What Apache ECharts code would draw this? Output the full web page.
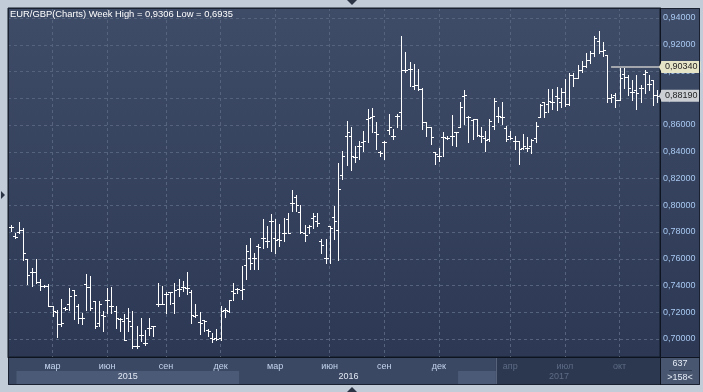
<!DOCTYPE html>
<html><head><meta charset="utf-8">
<script src="https://cdn.jsdelivr.net/npm/echarts@6/dist/echarts.min.js"></script>
<style>html,body{margin:0;padding:0;background:#c2ccd8;overflow:hidden}#c{width:703px;height:392px}</style>
</head><body><div id="c"></div>
<script>
const weeks = [
'2014-12-22','2014-12-29',
'2015-01-05','2015-01-12','2015-01-19','2015-01-26','2015-02-02','2015-02-09','2015-02-16','2015-02-23','2015-03-02','2015-03-09',
'2015-03-16','2015-03-23','2015-03-30','2015-04-06','2015-04-13','2015-04-20','2015-04-27','2015-05-04','2015-05-11','2015-05-18',
'2015-05-25','2015-06-01','2015-06-08','2015-06-15','2015-06-22','2015-06-29','2015-07-06','2015-07-13','2015-07-20','2015-07-27',
'2015-08-03','2015-08-10','2015-08-17','2015-08-24','2015-08-31','2015-09-07','2015-09-14','2015-09-21','2015-09-28','2015-10-05',
'2015-10-12','2015-10-19','2015-10-26','2015-11-02','2015-11-09','2015-11-16','2015-11-23','2015-11-30','2015-12-07','2015-12-14',
'2015-12-21','2015-12-28',
'2016-01-04','2016-01-11','2016-01-18','2016-01-25','2016-02-01','2016-02-08','2016-02-15','2016-02-22','2016-02-29','2016-03-07',
'2016-03-14','2016-03-21','2016-03-28','2016-04-04','2016-04-11','2016-04-18','2016-04-25','2016-05-02','2016-05-09','2016-05-16',
'2016-05-23','2016-05-30','2016-06-06','2016-06-13','2016-06-20','2016-06-27','2016-07-04','2016-07-11','2016-07-18','2016-07-25',
'2016-08-01','2016-08-08','2016-08-15','2016-08-22','2016-08-29','2016-09-05','2016-09-12','2016-09-19','2016-09-26','2016-10-03',
'2016-10-10','2016-10-17','2016-10-24','2016-10-31','2016-11-07','2016-11-14','2016-11-21','2016-11-28','2016-12-05','2016-12-12',
'2016-12-19','2016-12-26',
'2017-01-02','2017-01-09','2017-01-16','2017-01-23','2017-01-30','2017-02-06','2017-02-13','2017-02-20','2017-02-27','2017-03-06',
'2017-03-13','2017-03-20','2017-03-27','2017-04-03','2017-04-10','2017-04-17','2017-04-24','2017-05-01','2017-05-08','2017-05-15',
'2017-05-22','2017-05-29','2017-06-05','2017-06-12','2017-06-19','2017-06-26','2017-07-03','2017-07-10','2017-07-17','2017-07-24',
'2017-07-31','2017-08-07','2017-08-14','2017-08-21','2017-08-28','2017-09-04','2017-09-11','2017-09-18','2017-09-25','2017-10-02',
'2017-10-09','2017-10-16','2017-10-23','2017-10-30','2017-11-06','2017-11-13','2017-11-20','2017-11-27','2017-12-04'];

const opens = [
.7838,.7770,.7800,.7815,.7600,.7500,.7500,.7425,.7400,.7400,
.7250,.7200,.7115,.7230,.7260,.7370,.7245,.7160,.7410,.7390,
.7283,.7120,.7183,.7295,.7245,.7208,.7150,.7133,.7158,.7100,
.6945,.7033,.6970,.7083,.7095,.7258,.7265,.7340,.7350,.7270,
.7375,.7390,.7383,.7355,.7175,.7130,.7140,.7065,.7005,.7005,
.7005,.7215,.7210,.7358,.7375,.7370,.7550,.7608,.7608,.7695,
.7758,.7733,.7883,.7758,.7745,.7795,.7900,.8020,.8060,.7950,
.7795,.7840,.7908,.7880,.7733,.7608,.7845,.7910,.7815,.8225,
.8520,.8520,.8358,.8445,.8470,.8645,.8660,.8550,.8400,.8475,
.8560,.8520,.8670,.8700,.9008,.9020,.8895,.8900,.8870,.8620,
.8583,.8395,.8370,.8508,.8505,.8520,.8545,.8583,.8820,.8658,
.8640,.8645,.8520,.8500,.8495,.8595,.8670,.8658,.8575,.8520,
.8483,.8480,.8425,.8430,.8440,.8500,.8660,.8770,.8758,.8770,
.8820,.8770,.8850,.8760,.8975,.8950,.9013,.9038,.9088,.9140,
.9225,.9150,.9123,.8800,.8825,.8790,.8985,.8960,.8848,.8860,
.8873,.8985,.8910,.8935,.8823];

const highs = [
.7850,.7790,.7878,.7833,.7600,.7533,.7595,.7450,.7405,.7408,
.7250,.7220,.7300,.7240,.7383,.7370,.7265,.7195,.7483,.7470,
.7283,.7283,.7208,.7383,.7390,.7245,.7158,.7190,.7233,.7208,
.7100,.7158,.7065,.7158,.7100,.7420,.7400,.7350,.7350,.7420,
.7445,.7433,.7500,.7370,.7258,.7200,.7145,.7075,.7045,.7075,
.7250,.7233,.7295,.7420,.7383,.7545,.7700,.7758,.7645,.7708,
.7900,.7845,.7933,.7895,.7858,.7908,.7945,.8115,.8080,.8000,
.7850,.7850,.7945,.7945,.7745,.7745,.7845,.7995,.8314,.8408,
.8633,.8583,.8440,.8483,.8558,.8720,.8725,.8620,.8408,.8483,
.8683,.8570,.8683,.9265,.9145,.9070,.9058,.9020,.8880,.8620,
.8583,.8395,.8425,.8545,.8520,.8675,.8550,.8770,.8858,.8670,
.8645,.8645,.8583,.8558,.8645,.8800,.8733,.8770,.8590,.8558,
.8520,.8483,.8533,.8508,.8495,.8620,.8758,.8770,.8870,.8870,
.8883,.8875,.8943,.8988,.8988,.9050,.9075,.9138,.9150,.9263,
.9300,.9223,.9123,.8835,.8838,.9025,.9025,.8975,.8935,.8975,
.8900,.9010,.8973,.8935,.8860];

const lows = [
.7810,.7755,.7795,.7590,.7410,.7400,.7420,.7370,.7390,.7250,
.7175,.7015,.7100,.7220,.7220,.7153,.7120,.7115,.7220,.7220,
.7083,.7095,.7058,.7195,.7195,.7083,.7058,.6990,.7058,.6933,
.6933,.6983,.6958,.7033,.7020,.7250,.7258,.7195,.7265,.7195,
.7320,.7358,.7333,.7120,.7165,.7040,.7058,.7020,.6975,.6995,
.6995,.7165,.7200,.7290,.7345,.7300,.7445,.7525,.7525,.7525,
.7683,.7690,.7658,.7645,.7695,.7733,.7795,.7958,.7958,.7795,
.7733,.7795,.7833,.7845,.7645,.7570,.7570,.7745,.7591,.8195,
.8300,.8260,.8320,.8345,.8408,.8470,.8545,.8420,.8370,.8345,
.8533,.8495,.8583,.8570,.8995,.8895,.8870,.8858,.8570,.8520,
.8458,.8308,.8333,.8370,.8495,.8450,.8445,.8583,.8608,.8470,
.8495,.8520,.8470,.8408,.8483,.8570,.8620,.8608,.8483,.8495,
.8420,.8308,.8420,.8408,.8390,.8470,.8658,.8658,.8700,.8720,
.8713,.8738,.8743,.8750,.8888,.8950,.9000,.9030,.9060,.9113,
.9138,.9113,.8775,.8775,.8735,.8785,.8873,.8823,.8785,.8723,
.8775,.8838,.8860,.8748,.8773];

const closes = [
.7835,.7763,.7815,.7645,.7475,.7500,.7425,.7400,.7395,.7250,
.7210,.7115,.7120,.7225,.7320,.7330,.7160,.7158,.7390,.7233,
.7100,.7265,.7170,.7295,.7245,.7158,.7150,.6995,.7133,.6945,
.6945,.7033,.6970,.7083,.7095,.7258,.7265,.7340,.7350,.7370,
.7375,.7390,.7383,.7180,.7183,.7120,.7135,.7060,.7000,.7003,
.7208,.7215,.7290,.7345,.7375,.7375,.7658,.7570,.7608,.7690,
.7758,.7733,.7883,.7740,.7740,.7795,.7795,.8020,.8000,.7800,
.7780,.7845,.7920,.7870,.7700,.7608,.7833,.7880,.8119,.8370,
.8545,.8370,.8358,.8445,.8483,.8650,.8670,.8533,.8390,.8475,
.8583,.8515,.8670,.9008,.9008,.9020,.8900,.8870,.8620,.8583,
.8508,.8383,.8370,.8508,.8505,.8520,.8545,.8733,.8825,.8658,
.8645,.8525,.8520,.8488,.8633,.8783,.8670,.8658,.8495,.8505,
.8483,.8420,.8445,.8425,.8485,.8595,.8750,.8700,.8783,.8775,
.8800,.8850,.8760,.8975,.8950,.9013,.9038,.9088,.9138,.9250,
.9150,.9160,.8800,.8810,.8790,.8950,.8960,.8873,.8848,.8838,
.8873,.9000,.8910,.8823,.8819];

const yTicks = [0.70,0.72,0.74,0.76,0.78,0.80,0.82,0.84,0.86,0.88,0.90,0.92,0.94];
const monthTicks = ['2015-03-02','2015-06-01','2015-09-07','2015-12-07','2016-03-07','2016-06-06',
                    '2016-09-05','2016-12-05','2017-04-03','2017-07-03','2017-10-02'];
const monthNames = ['янв','фев','мар','апр','май','июн','июл','авг','сен','окт','ноя','дек'];
const yearStarts = ['2015-01-01','2016-01-07','2017-01-06'];
const navStart = '2017-03-10';
const levelValue = 0.9034;
const levelStart = '2017-09-18';
const titleText = 'EUR/GBP(Charts) Week High = 0,9306 Low = 0,6935';
const boxTop = '637';
const boxBottom = '>158<';

const FONT = 'Liberation Sans, Arial, sans-serif';
const fmt = v => v.toFixed(5).replace('.', ',');
const ts = d => { const p = d.split(/[- :]/).map(Number); return Date.UTC(p[0], p[1] - 1, p[2], p[3] || 0, p[4] || 0); };
const X_MIN = ts('2014-12-17 20:00'), X_MAX = ts('2017-12-08 12:00');
const Y_MIN = 0.686542, Y_MAX = 0.947477;
const navTs = ts(navStart);

const lastClose = closes[closes.length - 1];
const data = weeks.map((d, i) => [ts(d), opens[i], highs[i], lows[i], closes[i]]);
const monthVals = monthTicks.map(ts);
const yearVals = yearStarts.map(ts);
const yearMids = yearVals.map((a, i) => (Math.max(a, X_MIN) + (i + 1 < yearVals.length ? yearVals[i + 1] : X_MAX)) / 2);

const chart = echarts.init(document.getElementById('c'), null, {renderer: 'canvas', width: 703, height: 392});

const option = {
  animation: false,
  title: {text: titleText, left: 10, top: 10, padding: 0,
    textStyle: {color: '#ffffff', fontSize: 9.4, fontWeight: 'normal', fontFamily: FONT}},
  grid: {left: 8, right: 43, top: 8, bottom: 35, show: true, borderColor: '#121a28', borderWidth: 1, backgroundColor: 'transparent'},
  xAxis: [{
    type: 'value', min: X_MIN, max: X_MAX, position: 'bottom',
    axisLine: {show: true, onZero: false, lineStyle: {color: '#0e1420', width: 1}},
    axisTick: {show: false, customValues: monthVals},
    axisLabel: {customValues: monthVals, margin: 5, fontSize: 9, fontFamily: FONT, color: '#c4d4ee',
      formatter: v => { const m = monthNames[new Date(v).getUTCMonth()]; return v >= navTs ? '{dim|' + m + '}' : m; },
      rich: {dim: {color: '#5d6b86', fontSize: 9, fontFamily: FONT}}},
    splitLine: {show: true, lineStyle: {color: '#55637d', width: 1, type: [3, 3]}}
  }, {
    type: 'value', min: X_MIN, max: X_MAX, position: 'bottom',
    axisLine: {show: false, onZero: false}, axisTick: {show: false, customValues: yearMids},
    axisLabel: {customValues: yearMids, margin: 15, fontSize: 9, fontFamily: FONT, color: '#e2e9f4',
      formatter: v => { const y = String(new Date(v).getUTCFullYear()); return v >= navTs ? '{dim|' + y + '}' : y; },
      rich: {dim: {color: '#5d6b86', fontSize: 9, fontFamily: FONT}}},
    splitLine: {show: false}
  }],
  yAxis: {
    type: 'value', position: 'right', min: Y_MIN, max: Y_MAX,
    axisLine: {show: true, onZero: false, lineStyle: {color: '#0e1420', width: 1}},
    axisTick: {show: false, customValues: yTicks},
    axisLabel: {customValues: yTicks, margin: 3, fontSize: 9, fontFamily: FONT, color: '#a9c9f2', formatter: v => fmt(v)},
    splitLine: {show: true, lineStyle: {color: '#55637d', width: 1, type: [3, 3]}}
  },
  series: [{
    type: 'custom', xAxisIndex: 0, yAxisIndex: 0, data: data,
    encode: {x: 0, y: [1, 2, 3, 4]},
    renderItem: (params, api) => {
      const t = api.value(0);
      const pO = api.coord([t, api.value(1)]);
      const pH = api.coord([t, api.value(2)]);
      const pL = api.coord([t, api.value(3)]);
      const pC = api.coord([t, api.value(4)]);
      const x = Math.round(pO[0]) + 0.5;
      const r = v => Math.round(v) + 0.5;
      const st = {stroke: '#ffffff', lineWidth: 1};
      return {type: 'group', children: [
        {type: 'line', shape: {x1: x, y1: Math.round(pH[1]), x2: x, y2: Math.round(pL[1]) + 1}, style: st},
        {type: 'line', shape: {x1: x - 2.5, y1: r(pO[1]), x2: x, y2: r(pO[1])}, style: st},
        {type: 'line', shape: {x1: x, y1: r(pC[1]), x2: x + 2.5, y2: r(pC[1])}, style: st}
      ]};
    },
    markLine: {
      silent: true, symbol: ['none', 'none'], animation: false,
      label: {show: true, position: 'end', distance: 1, fontSize: 9, fontFamily: FONT, color: '#1e1e1e', padding: [2, 3, 1, 4], borderRadius: 1},
      data: [
        [{coord: [ts(levelStart), levelValue], lineStyle: {color: '#a3a7ad', width: 2, type: 'solid'},
          label: {formatter: fmt(levelValue), backgroundColor: '#e7e5c8'}},
         {coord: [X_MAX, levelValue]}],
        [{coord: [data[data.length - 1][0], lastClose], lineStyle: {color: 'rgba(0,0,0,0)', width: 1, type: 'solid'},
          label: {formatter: fmt(lastClose), backgroundColor: '#ccd0d4'}},
         {coord: [X_MAX, lastClose]}]
      ]
    }
  }]
};
chart.setOption(option);

const px = v => chart.convertToPixel({xAxisIndex: 0}, v);
const py = v => chart.convertToPixel({yAxisIndex: 0}, v);
const L = 8, R = 660, T = 8, B = 357, RB = 700, BB = 385;
const xs = yearVals.map(px);
const xNav = px(navTs);
const tagArrow = (v, fill) => {
  const y = py(v);
  return {type: 'polygon', z: 70, shape: {points: [[R - 1, y], [R + 2, y - 6], [R + 2, y + 6]]}, style: {fill: fill}};
};
const graphics = [
  {type: 'rect', z: -100, shape: {x: L, y: T, width: RB - L, height: B - T},
   style: {fill: new echarts.graphic.LinearGradient(0, 0, 0, 1, [{offset: 0, color: '#3f4c67'}, {offset: 1, color: '#2c3854'}])}},
  {type: 'rect', z: -100, shape: {x: L, y: B, width: RB - L, height: BB - B}, style: {fill: '#3b4863'}},
  {type: 'rect', z: -99, shape: {x: xs[0], y: B + 14, width: xs[1] - xs[0], height: BB - B - 15}, style: {fill: '#4b5a77'}},
  {type: 'rect', z: -99, shape: {x: xs[2], y: B + 14, width: R - xs[2], height: BB - B - 15}, style: {fill: '#4b5a77'}},
  {type: 'rect', z: -98, shape: {x: xNav, y: B + 1, width: R - xNav, height: BB - B - 1}, style: {fill: '#2c384f'}},
  {type: 'line', z: -97, shape: {x1: Math.round(xNav) + 0.5, y1: B + 1, x2: Math.round(xNav) + 0.5, y2: BB}, style: {stroke: '#56637b', lineWidth: 1}},
  {type: 'rect', z: -98, shape: {x: R, y: B, width: RB - R, height: BB - B}, style: {fill: '#48566f'}},
  {type: 'rect', z: 50, shape: {x: L + 0.5, y: T + 0.5, width: RB - L - 1, height: BB - T - 1}, style: {fill: 'none', stroke: '#1a2232', lineWidth: 1}},
  {type: 'line', z: 50, shape: {x1: L, y1: B + 0.5, x2: RB, y2: B + 0.5}, style: {stroke: '#0e1420', lineWidth: 1}},
  {type: 'line', z: 50, shape: {x1: R + 0.5, y1: T, x2: R + 0.5, y2: BB}, style: {stroke: '#0e1420', lineWidth: 1}},
  tagArrow(levelValue, '#e7e5c8'),
  tagArrow(lastClose, '#ccd0d4'),
  {type: 'text', z: 60, style: {text: boxTop, x: (R + RB) / 2, y: B + 7, align: 'center', verticalAlign: 'middle', fill: '#e4ebf6', font: '9px ' + FONT}},
  {type: 'line', z: 60, shape: {x1: R + 9, y1: B + 13.5, x2: RB - 8, y2: B + 13.5}, style: {stroke: '#2f3b52', lineWidth: 1}},
  {type: 'text', z: 60, style: {text: boxBottom, x: (R + RB) / 2, y: B + 21, align: 'center', verticalAlign: 'middle', fill: '#e4ebf6', font: '9px ' + FONT}},
  {type: 'polygon', z: 60, shape: {points: [[347, 0], [357, 0], [352, 5]]}, style: {fill: '#2a3444'}},
  {type: 'polygon', z: 60, shape: {points: [[347, 392], [357, 392], [352, 387]]}, style: {fill: '#2a3444'}},
  {type: 'polygon', z: 60, shape: {points: [[1, 191], [1, 199], [5, 195]]}, style: {fill: '#2a3444'}}
];
chart.setOption({graphic: graphics});
</script>
</body></html>
